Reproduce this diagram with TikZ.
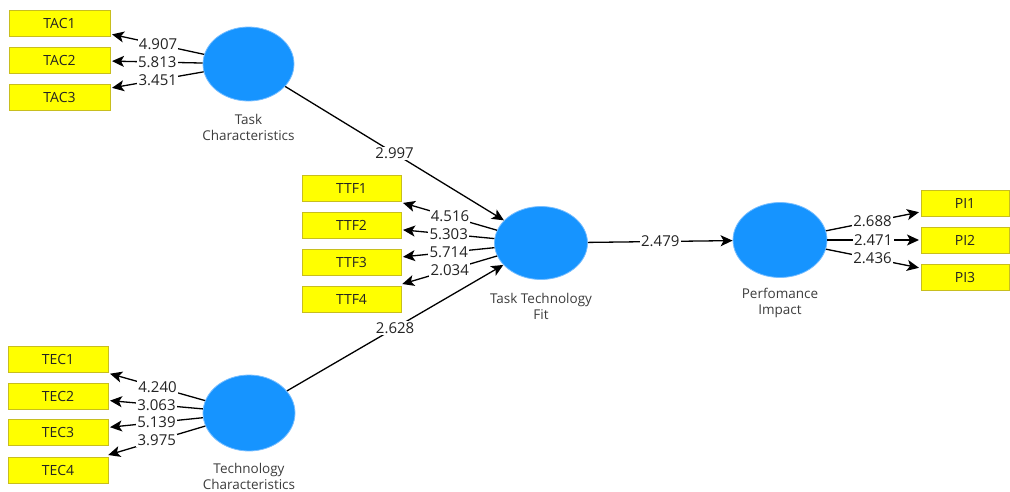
\documentclass[tikz,border=0pt]{standalone}
\usepackage{fontspec}
\setmainfont{Open Sans}
\usetikzlibrary{shapes.geometric,arrows.meta}
\definecolor{lvfill}{RGB}{22,148,255}
\definecolor{lvedge}{RGB}{120,190,255}
\definecolor{mvfill}{RGB}{255,255,0}
\definecolor{mvedge}{RGB}{200,190,30}
\definecolor{txt}{RGB}{35,35,35}
\definecolor{captxt}{RGB}{60,60,60}
\tikzset{
  latent/.style={ellipse,fill=lvfill,draw=lvedge,line width=0.8pt,inner sep=0pt},
  indicator/.style={rectangle,fill=mvfill,draw=mvedge,line width=0.8pt,minimum height=26pt,inner sep=0pt,outer sep=2pt,text=txt,font=\fontsize{14}{16}\selectfont},
  caption/.style={align=center,text=captxt,font=\fontsize{13.5}{16}\selectfont},
  path/.style={line width=1.3pt,-{Stealth[length=12pt,width=11pt,inset=3pt]}},
  coef/.style={fill=white,inner sep=1.2pt,text=txt,font=\fontsize{15}{17}\selectfont}
}
\begin{document}
\begin{tikzpicture}[x=1pt,y=-1pt]
\useasboundingbox (0,0) rectangle (1010,491);

% latent variables
\node[latent,minimum width=91pt,minimum height=74pt] (tc) at (248.5,64) {};
\node[latent,minimum width=93pt,minimum height=73pt] (ttf) at (541,243) {};
\node[latent,minimum width=92pt,minimum height=76pt] (tec) at (249,413) {};
\node[latent,minimum width=94pt,minimum height=75pt] (pi) at (780,240) {};

\node[caption] (tcl) at (248.5,127) {Task\\Characteristics};
\node[caption] (ttfl) at (541,306) {Task Technology\\Fit};
\node[caption] (tecl) at (249,476) {Technology\\Characteristics};
\node[caption] (pil) at (780,303) {Perfomance\\Impact};

% indicators
\node[indicator,minimum width=101pt] (tac1) at (59.5,23) {TAC1};
\node[indicator,minimum width=101pt] (tac2) at (59.5,60) {TAC2};
\node[indicator,minimum width=101pt] (tac3) at (59.5,97) {TAC3};

\node[indicator,minimum width=99pt] (ttf1) at (351.5,188) {TTF1};
\node[indicator,minimum width=99pt] (ttf2) at (351.5,225) {TTF2};
\node[indicator,minimum width=99pt] (ttf3) at (351.5,262) {TTF3};
\node[indicator,minimum width=99pt] (ttf4) at (351.5,299) {TTF4};

\node[indicator,minimum width=100pt] (tec1) at (58,359) {TEC1};
\node[indicator,minimum width=100pt] (tec2) at (58,396) {TEC2};
\node[indicator,minimum width=100pt] (tec3) at (58,432.5) {TEC3};
\node[indicator,minimum width=100pt] (tec4) at (58,470) {TEC4};

\node[indicator,minimum width=88pt] (pi1) at (965,203) {PI1};
\node[indicator,minimum width=88pt] (pi2) at (965,240) {PI2};
\node[indicator,minimum width=88pt] (pi3) at (965,277) {PI3};

% structural paths
\draw[path] (tc) -- node[coef] {2.997} (ttf);
\draw[path] (tec) -- node[coef] {2.628} (ttf);
\draw[path] (ttf) -- node[coef] {2.479} (pi);

% outer loadings
\draw[path] (tc) -- node[coef] {4.907} (tac1);
\draw[path] (tc) -- node[coef] {5.813} (tac2);
\draw[path] (tc) -- node[coef] {3.451} (tac3);

\draw[path] (ttf) -- node[coef] {4.516} (ttf1);
\draw[path] (ttf) -- node[coef] {5.303} (ttf2);
\draw[path] (ttf) -- node[coef] {5.714} (ttf3);
\draw[path] (ttf) -- node[coef] {2.034} (ttf4);

\draw[path] (tec) -- node[coef] {4.240} (tec1);
\draw[path] (tec) -- node[coef] {3.063} (tec2);
\draw[path] (tec) -- node[coef] {5.139} (tec3);
\draw[path] (tec) -- node[coef] {3.975} (tec4);

\draw[path] (pi) -- node[coef] {2.688} (pi1);
\draw[path] (pi) -- node[coef] {2.471} (pi2);
\draw[path] (pi) -- node[coef] {2.436} (pi3);
\end{tikzpicture}
\end{document}
